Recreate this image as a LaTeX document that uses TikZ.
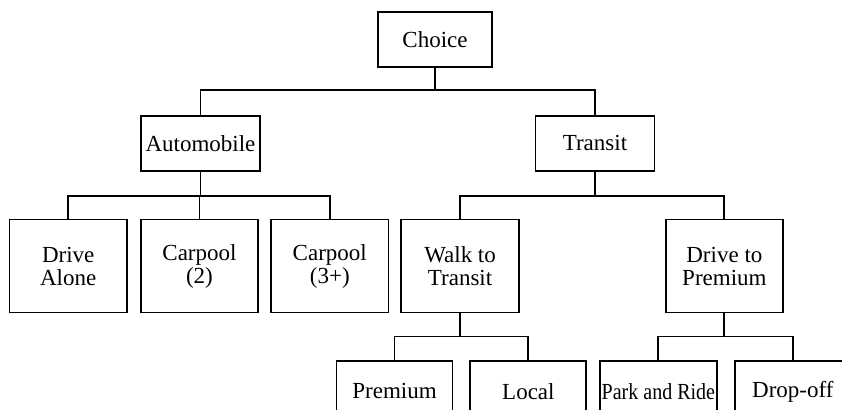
\documentclass[tikz,border=0pt]{standalone}
\usepackage{fontspec}
\setmainfont{Liberation Serif}
\usetikzlibrary{positioning}

\begin{document}
\begin{tikzpicture}[
    node distance=23.5pt,
    box/.style={
        draw, line width=0.9pt, minimum width=58pt, minimum height=27.5pt,
        inner sep=1pt, align=center, font=\fontsize{11.5}{11.5}\selectfont
    },
    nestbox/.style={box, minimum width=59.5pt},
    modebox/.style={box, minimum width=58.75pt, minimum height=46.5pt},
    subbox/.style={box, minimum width=58pt, minimum height=30pt},
    branch/.style={line width=0.9pt},
]

% page frame
\useasboundingbox (-217.5pt,19.75pt) rectangle (203.5pt,-185.25pt);

% ============================================
% Top and nests
% ============================================
\node[box, minimum width=57pt] (choice) at (0,0) {Choice};
\node[nestbox, below=of choice, xshift=-117.25pt] (auto) {Automobile};
\node[nestbox, below=of choice, xshift=80pt] (transit) {Transit};

% ============================================
% Modes
% ============================================
\node[modebox, below=of auto, xshift=-0.5pt] (carpooltwo) {Carpool\\(2)};
\node[modebox, left=6pt of carpooltwo] (drivealone) {Drive\\Alone};
\node[modebox, right=5.5pt of carpooltwo] (carpoolthree) {Carpool\\(3+)};
\node[modebox, right=5.5pt of carpoolthree] (walk) {Walk to\\Transit};
\node[modebox, right=72.5pt of walk] (drivepremium) {Drive to\\Premium};

% ============================================
% Transit sub-modes
% ============================================
\node[subbox, below=of walk, xshift=-32.75pt] (premium) {Premium};
\node[subbox, right=8pt of premium] (local) {Local};
\node[subbox, below=of drivepremium, xshift=-33pt] (parkride) {\scalebox{0.87}[1]{Park and Ride}};
\node[subbox, right=8pt of parkride] (dropoff) {Drop-off};

% ============================================
% Branches
% ============================================
\draw[branch] (choice.south) -- ++(0,-11pt) -| (auto.north);
\draw[branch] (choice.south) -- ++(0,-11pt) -| (transit.north);

\draw[branch] (auto.south) -- ++(0,-12pt) -| (drivealone.north);
\draw[branch] (auto.south) -- ++(0,-12pt) -| (carpooltwo.north);
\draw[branch] (auto.south) -- ++(0,-12pt) -| (carpoolthree.north);

\draw[branch] (transit.south) -- ++(0,-12pt) -| (walk.north);
\draw[branch] (transit.south) -- ++(0,-12pt) -| (drivepremium.north);

\draw[branch] (walk.south) -- ++(0,-11.5pt) -| (premium.north);
\draw[branch] (walk.south) -- ++(0,-11.5pt) -| (local.north);
\draw[branch] (drivepremium.south) -- ++(0,-11.5pt) -| (parkride.north);
\draw[branch] (drivepremium.south) -- ++(0,-11.5pt) -| (dropoff.north);

\end{tikzpicture}
\end{document}
